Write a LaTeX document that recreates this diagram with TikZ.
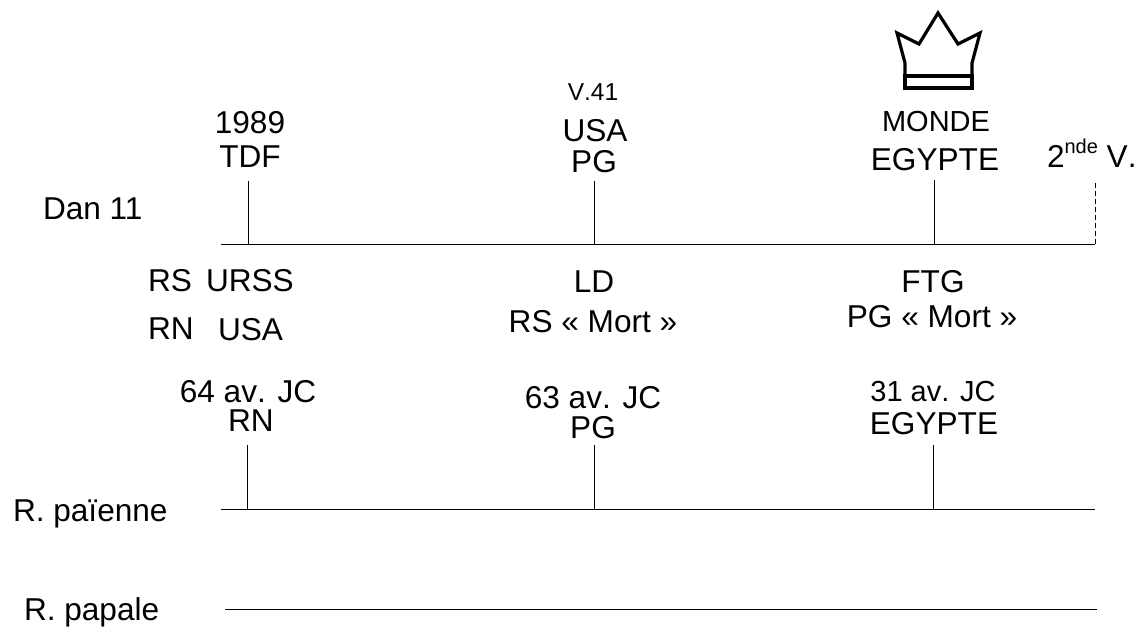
\documentclass[tikz,border=0pt]{standalone}
\usepackage{fontspec}
\setmainfont[Kerning=Off]{Liberation Sans}
\tikzset{
  x=1pt,y=-1pt,
  lab/.style={inner sep=0pt,outer sep=0pt,anchor=base,font=\fontsize{31.6}{32}\selectfont},
  labm/.style={lab,font=\fontsize{29}{29}\selectfont},
  labs/.style={lab,font=\fontsize{24.5}{25}\selectfont},
  labw/.style={lab,anchor=base west},
  axis/.style={line width=1pt,black},
  crown/.style={line width=3.2pt,black,line join=miter}
}
\begin{document}
\begin{tikzpicture}
\useasboundingbox (0,0) rectangle (1142,626);
% top axis
\coordinate (t0) at (221,244); \coordinate (t1) at (1095,244);
\coordinate (ta) at (248,244); \coordinate (ta1) at (248,181);
\coordinate (tb) at (594,244); \coordinate (tb1) at (594,181);
\coordinate (tc) at (934,244); \coordinate (tc1) at (934,180);
\coordinate (td1) at (1095,182);
\draw[axis] (t0) -- (t1);
\draw[axis] (ta) -- (ta1);
\draw[axis] (tb) -- (tb1);
\draw[axis] (tc) -- (tc1);
\draw[axis,dash pattern=on 5pt off 3pt] (t1) -- (td1);
% lower axes
\coordinate (m0) at (221,509); \coordinate (m1) at (1095,509);
\coordinate (ma) at (247,509); \coordinate (ma1) at (247,445);
\coordinate (mb) at (594,509); \coordinate (mb1) at (594,445);
\coordinate (mc) at (933,509); \coordinate (mc1) at (933,445);
\draw[axis] (m0) -- (m1);
\draw[axis] (ma) -- (ma1);
\draw[axis] (mb) -- (mb1);
\draw[axis] (mc) -- (mc1);
\coordinate (p0) at (225,609); \coordinate (p1) at (1097,609);
\draw[axis] (p0) -- (p1);
% crown
\draw[crown] (905,76) -- (905,63) -- (897,33) -- (919,44) -- (938,13) -- (958,44) -- (980,33) -- (972,63) -- (972,76);
\draw[crown] (905,76) rectangle (972,88);
% labels
\node[lab] (a1) at (250,133) {1989};
\node[lab] (a2) at (250,167) {TDF};
\node[labw] (d) at (43,219) {Dan 1\kern-0.074em 1};
\node[labw] (rs) at (148,291) {RS};
\node[labw] (urss) at (206,291) {URSS};
\node[labw] (rn) at (148,339) {RN};
\node[labw] (usa1) at (218,340) {USA};
\node[labs] (v) at (593,100) {V.41};
\node[lab] (usa2) at (595,141) {USA};
\node[lab] (pg1) at (594,172) {PG};
\node[labm] (mon) at (936,131) {MONDE};
\node[lab] (eg1) at (935,170) {EGYPTE};
\node[labw] (snd) at (1047,167) {2\raisebox{0.42em}{\fontsize{20}{20}\selectfont nde} V.};
\node[lab] (ld) at (594,292) {LD};
\node[lab] (rsm) at (593,332) {RS « Mort »};
\node[lab] (ftg) at (933,292) {FTG};
\node[lab] (pgm) at (932,327) {PG « Mort »};
\node[lab] (y64) at (248,402) {64 av. JC};
\node[lab] (rn2) at (251,431) {RN};
\node[lab] (y63) at (593,408) {63 av. JC};
\node[lab] (pg2) at (593,438) {PG};
\node[labm] (y31) at (933,401) {31 av. JC};
\node[lab] (eg2) at (934,434) {EGYPTE};
\node[labw] (rp1) at (13,521) {R. païenne};
\node[labw] (rp2) at (24,620) {R. papale};
\end{tikzpicture}
\end{document}
